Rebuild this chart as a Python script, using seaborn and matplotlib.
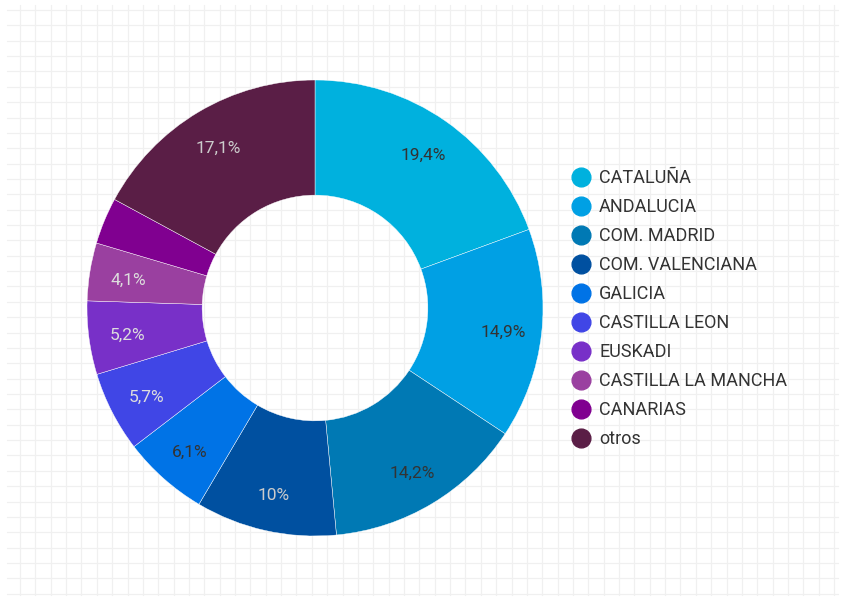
import matplotlib
matplotlib.use("Agg")
import matplotlib.pyplot as plt
from matplotlib.lines import Line2D
import numpy as np
import seaborn as sns

regions = ["CATALUÑA", "ANDALUCIA", "COM. MADRID", "COM. VALENCIANA", "GALICIA",
           "CASTILLA LEON", "EUSKADI", "CASTILLA LA MANCHA", "CANARIAS", "otros"]
shares = [19.4, 14.9, 14.2, 10.0, 6.1, 5.7, 5.2, 4.1, 3.3, 17.1]
colors = ["#00b1de", "#00a0e4", "#0079b4", "#0050a0", "#0073e6",
          "#4046e6", "#7830c8", "#9a40a0", "#800090", "#5a1e46"]
label_colors = ["#333333", "#333333", "#333333", "#cccccc", "#333333",
                "#dddddd", "#dddddd", "#dddddd", "#dddddd", "#cccccc"]

sns.set_style("white")
plt.rcParams['font.family'] = ['Roboto', 'DejaVu Sans']

W, H = 843, 598
fig = plt.figure(figsize=(W / 100, H / 100), dpi=100)

# grid paper background
bg = fig.add_axes([0, 0, 1, 1])
bg.set_xlim(0, W)
bg.set_ylim(H, 0)
step = 15.36
for x in np.arange(20, 836, step):
    bg.plot([x, x], [5, 595], color="#f0f0f0", lw=0.9, zorder=0)
for y in np.arange(10, 596, step):
    bg.plot([7, 838], [y, y], color="#f0f0f0", lw=0.9, zorder=0)
bg.axis("off")

# donut
cx, cy, R = 315, 308, 228
ax = fig.add_axes([(cx - R) / W, (H - cy - R) / H, 2 * R / W, 2 * R / H])
palette = sns.color_palette(colors)
wedges, _ = ax.pie(shares, colors=palette, startangle=90, counterclock=False,
                   radius=1, wedgeprops=dict(width=0.505, edgecolor="white", linewidth=0.3))
total = sum(shares)
for w, v, tc in zip(wedges, shares, label_colors):
    if v / total < 0.04:
        continue
    ang = np.deg2rad((w.theta1 + w.theta2) / 2)
    r = 0.83
    txt = f"{v:.1f}".replace(".0", "").replace(".", ",") + "%"
    ax.text(r * np.cos(ang), r * np.sin(ang) - 0.012, txt, ha="center",
            va="center", fontsize=12.5, color=tc)
ax.set_xlim(-1, 1)
ax.set_ylim(-1, 1)
ax.set_aspect("equal")
ax.axis("off")

# legend
handles = [Line2D([0], [0], marker="o", linestyle="", markersize=13.5,
                  markerfacecolor=c, markeredgecolor=c) for c in colors]
fig.legend(handles, regions, loc="upper left",
           bbox_to_anchor=(572 / W, 1 - 169 / H), frameon=False,
           fontsize=13, labelspacing=0.61, handlelength=1.0,
           handletextpad=0.5, labelcolor="#333333", borderaxespad=0,
           borderpad=0)

fig.savefig("out.png", dpi=100)
